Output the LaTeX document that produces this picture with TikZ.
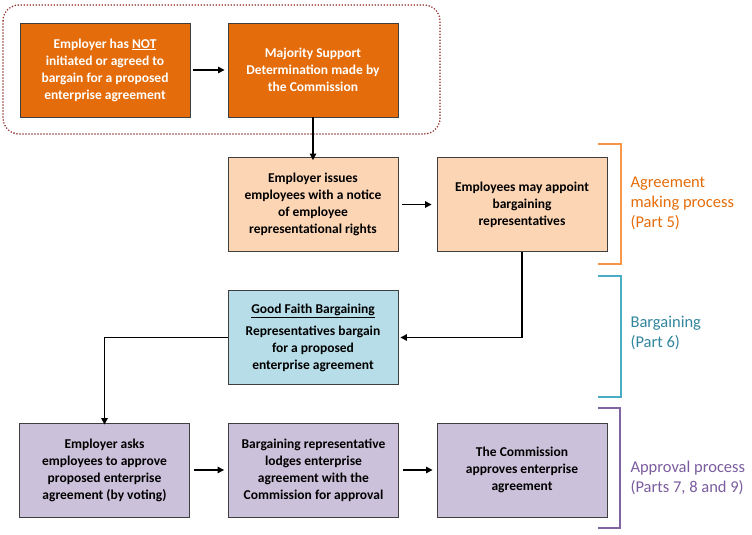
\documentclass[tikz,border=0pt]{standalone}
\usepackage{fontspec}
\setmainfont{Carlito}
\usetikzlibrary{arrows.meta}
\definecolor{orgfill}{HTML}{E46C0A}
\definecolor{ltorg}{HTML}{FCD5B5}
\definecolor{ltblue}{HTML}{B7DEE8}
\definecolor{ltpurp}{HTML}{CCC1DA}
\definecolor{boxline}{HTML}{3F3F3F}
\definecolor{dotred}{HTML}{953735}
\definecolor{brorg}{HTML}{F79646}
\definecolor{brblue}{HTML}{4BACC6}
\definecolor{brpurp}{HTML}{8064A2}
\definecolor{txorg}{HTML}{E46C0A}
\definecolor{txblue}{HTML}{31859C}
\definecolor{txpurp}{HTML}{7A5C9E}
\tikzset{
  box/.style={draw=boxline, line width=0.9bp, minimum width=170bp, minimum height=94bp,
    align=center, inner sep=2bp, font=\fontsize{13.5bp}{17bp}\selectfont\bfseries},
  darkbox/.style={box, fill=orgfill, text=white},
  orgbox/.style={box, fill=ltorg, text=black},
  bluebox/.style={box, fill=ltblue, text=black},
  purpbox/.style={box, fill=ltpurp, text=black},
  arr/.style={-{Triangle[length=6.5bp,width=6.5bp]}, line width=1.2bp, black},
  brack/.style={line width=2bp},
  lab/.style={anchor=west, align=left, font=\fontsize{16.5bp}{20bp}\selectfont},
}
\begin{document}
\begin{tikzpicture}[x=1bp, y=-1bp]
\useasboundingbox (0,0) rectangle (752,535);
% group outline
\draw[dotred, line width=1.8bp, line cap=round, dash pattern=on 0bp off 3bp, rounded corners=16bp] (3,5) rectangle (440,134);
% boxes
\node[darkbox] (b1) at (105,70) {Employer has \underline{NOT}\\initiated or agreed to\\bargain for a proposed\\enterprise agreement};
\node[darkbox] (b2) at (313,70) {Majority Support\\Determination made by\\the Commission};
\node[orgbox] (b3) at (313,204.5) {Employer issues\\employees with a notice\\of employee\\representational rights};
\node[orgbox] (b4) at (522,204.5) {Employees may appoint\\bargaining\\representatives};
\node[bluebox] (b5) at (313,337.5) {\underline{Good Faith Bargaining}\\[5bp]Representatives bargain\\for a proposed\\enterprise agreement};
\node[purpbox] (b6) at (104.5,470) {Employer asks\\employees to approve\\proposed enterprise\\agreement (by voting)};
\node[purpbox] (b7) at (313.5,470) {Bargaining representative\\lodges enterprise\\agreement with the\\Commission for approval};
\node[purpbox] (b8) at (522,470) {The Commission\\approves enterprise\\agreement};
% connectors
\draw[arr] ([xshift=3bp]b1.east) -- ([xshift=-3bp]b2.west);
\draw[arr] (b2.south) -- ([yshift=-3bp]b3.north);
\draw[arr] ([xshift=4bp]b3.east) -- ([xshift=-5bp]b4.west);
\draw[arr] (b4.south) |- ([xshift=2bp]b5.east);
\draw[arr] (b5.west) -| ([yshift=-2bp]b6.north);
\draw[arr] ([xshift=4bp]b6.east) -- ([xshift=-4bp]b7.west);
\draw[arr] ([xshift=4bp]b7.east) -- ([xshift=-4bp]b8.west);
% brackets
\draw[brack, brorg] (598,144) -- (621,144) -- (621,264) -- (598,264);
\draw[brack, brblue] (598,276) -- (621,276) -- (621,397) -- (598,397);
\draw[brack, brpurp] (598,408) -- (620,408) -- (620,528) -- (598,528);
\node[lab, text=txorg] (l1) at (627,203) {Agreement\\making process\\(Part 5)};
\node[lab, text=txblue] (l2) at (627,333) {Bargaining\\(Part 6)};
\node[lab, text=txpurp] (l3) at (627,478) {Approval process\\(Parts 7, 8 and 9)};
\end{tikzpicture}
\end{document}
